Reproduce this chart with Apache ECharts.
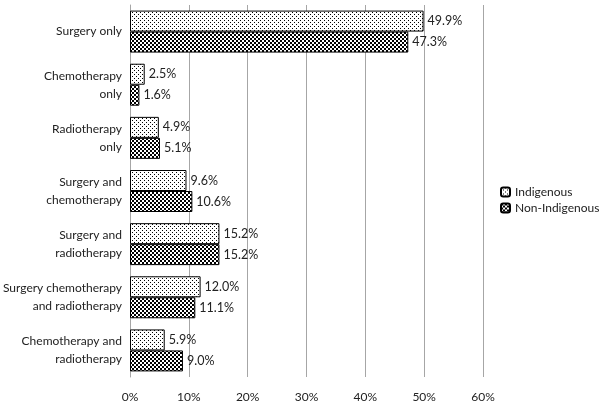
<!DOCTYPE html>
<html>
<head>
<meta charset="utf-8">
<script src="https://cdn.jsdelivr.net/npm/echarts@6/dist/echarts.min.js"></script>
<style>
html, body { margin: 0; padding: 0; background: #fff; }
#chart { width: 600px; height: 404px; }
</style>
</head>
<body>
<div id="chart"></div>
<script>
const categories = ['Surgery only', 'Chemotherapy\nonly', 'Radiotherapy\nonly', 'Surgery and\nchemotherapy', 'Surgery and\nradiotherapy', 'Surgery chemotherapy\nand radiotherapy', 'Chemotherapy and\nradiotherapy'];
const indigenous = [49.9, 2.5, 4.9, 9.6, 15.2, 12.0, 5.9];
const nonIndigenous = [47.3, 1.6, 5.1, 10.6, 15.2, 11.1, 9.0];
const seriesNames = ['Indigenous', 'Non-Indigenous'];
const xTicks = [0, 10, 20, 30, 40, 50, 60];

// small tiles for the fill patterns
function dotTile() {
  const c = document.createElement('canvas');
  c.width = 4; c.height = 4;
  const ctx = c.getContext('2d');
  ctx.fillStyle = '#fff';
  ctx.fillRect(0, 0, 4, 4);
  ctx.fillStyle = '#000';
  ctx.fillRect(0, 0, 1, 1);
  ctx.fillRect(2, 2, 1, 1);
  return c;
}
function checkTile() {
  const c = document.createElement('canvas');
  c.width = 4; c.height = 4;
  const ctx = c.getContext('2d');
  ctx.fillStyle = '#fff';
  ctx.fillRect(0, 0, 4, 4);
  ctx.fillStyle = '#000';
  ctx.fillRect(0, 0, 2, 2);
  ctx.fillRect(2, 2, 2, 2);
  return c;
}

const font = 'Lato, sans-serif';
const chart = echarts.init(document.getElementById('chart'));

const labelOpt = {
  show: true,
  position: 'right',
  distance: 4,
  color: '#222',
  fontSize: 12.5,
  fontFamily: font,
  formatter: p => p.value.toFixed(1) + '%'
};

chart.setOption({
  animation: false,
  grid: { left: 130, right: 117, top: 5, bottom: 27, outerBoundsMode: 'none' },
  legend: {
    orient: 'vertical',
    left: 500,
    top: 186,
    padding: 0,
    itemWidth: 9,
    itemHeight: 9,
    itemGap: 4,
    textStyle: { color: '#222', fontSize: 12, fontFamily: font },
    data: seriesNames
  },
  xAxis: {
    type: 'value',
    min: xTicks[0],
    max: xTicks[xTicks.length - 1],
    interval: 10,
    axisLine: { show: false },
    axisTick: { show: false },
    splitLine: { show: true, lineStyle: { color: '#a6a6a6', width: 1 } },
    axisLabel: { color: '#222', fontSize: 12, fontFamily: font, margin: 14, formatter: v => v + '%' }
  },
  yAxis: {
    type: 'category',
    inverse: true,
    data: categories,
    axisLine: { show: true, lineStyle: { color: '#a6a6a6' } },
    axisTick: { show: false },
    axisLabel: { color: '#222', fontSize: 12, fontFamily: font, margin: 8, lineHeight: 18, align: 'right' }
  },
  series: [
    {
      name: seriesNames[0],
      type: 'bar',
      data: indigenous,
      barGap: '0%',
      barCategoryGap: '21%',
      itemStyle: { color: { image: dotTile(), repeat: 'repeat' }, borderColor: '#000', borderWidth: 1 },
      label: labelOpt
    },
    {
      name: seriesNames[1],
      type: 'bar',
      data: nonIndigenous,
      itemStyle: { color: { image: checkTile(), repeat: 'repeat' }, borderColor: '#000', borderWidth: 1 },
      label: labelOpt
    }
  ]
});
</script>
</body>
</html>
